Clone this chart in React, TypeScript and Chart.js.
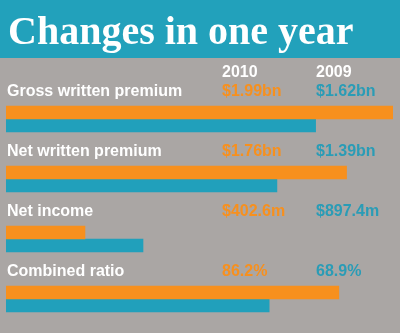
import React, { useEffect, useRef } from "react";
import { Chart, registerables } from "chart.js";

Chart.register(...registerables);

const title = "Changes in one year";
const categories = ["Gross written premium", "Net written premium", "Net income", "Combined ratio"];
const seriesNames = ["2010", "2009"];
const valueLabels2010 = ["$1.99bn", "$1.76bn", "$402.6m", "86.2%"];
const valueLabels2009 = ["$1.62bn", "$1.39bn", "$897.4m", "68.9%"];
// bar lengths as drawn in the graphic, in percent of the full bar width
const barLength2010 = [100, 88, 20.4, 86];
const barLength2009 = [80, 70, 35.4, 68];

const ORANGE = "#f7901e";
const TEAL = "#21a0bb";
const GRAY = "#aaa6a4";
const BANNER = "#22a1bb";
const SANS = "'Liberation Sans', Arial, sans-serif";

export default function App() {
  const ref = useRef<HTMLCanvasElement | null>(null);

  useEffect(() => {
    const canvas = ref.current;
    if (!canvas) return;

    const decor = {
      id: "decor",
      beforeDraw(chart: any) {
        const ctx = chart.ctx;
        ctx.save();
        ctx.fillStyle = GRAY;
        ctx.fillRect(0, 0, chart.width, chart.height);
        ctx.fillStyle = BANNER;
        ctx.fillRect(0, 0, chart.width, 58);
        ctx.fillStyle = "#ffffff";
        ctx.font = "bold 40px 'Liberation Serif', 'Times New Roman', serif";
        ctx.textBaseline = "alphabetic";
        ctx.textAlign = "left";
        ctx.fillText(title, 8, 44);
        ctx.restore();
      },
      afterDraw(chart: any) {
        const ctx = chart.ctx;
        const y = chart.scales.y;
        ctx.save();
        ctx.textBaseline = "alphabetic";
        ctx.textAlign = "left";
        ctx.font = `bold 16px ${SANS}`;
        ctx.fillStyle = "#ffffff";
        ctx.fillText(seriesNames[0], 222, 77);
        ctx.fillText(seriesNames[1], 316, 77);
        categories.forEach((c, i) => {
          const base = y.getPixelForValue(i) - 23;
          ctx.fillStyle = "#ffffff";
          ctx.fillText(c, 7, base);
          ctx.fillStyle = ORANGE;
          ctx.fillText(valueLabels2010[i], 222, base);
          ctx.fillStyle = "#2a9cb6";
          ctx.fillText(valueLabels2009[i], 316, base);
        });
        ctx.restore();
      },
    };

    const chart = new Chart(canvas, {
      type: "bar",
      data: {
        labels: categories,
        datasets: [
          { label: seriesNames[0], data: barLength2010, backgroundColor: ORANGE, barThickness: 13 },
          { label: seriesNames[1], data: barLength2009, backgroundColor: TEAL, barThickness: 13 },
        ],
      },
      options: {
        indexAxis: "y",
        responsive: false,
        animation: false,
        layout: { padding: { top: 89, bottom: 4, left: 6, right: 7 } },
        plugins: { legend: { display: false }, tooltip: { enabled: false }, title: { display: false } },
        scales: {
          x: { display: false, min: 0, max: 100 },
          y: { display: false },
        },
      },
      plugins: [decor],
    });
    return () => chart.destroy();
  }, []);

  return (
    <div style={{ position: "fixed", left: 0, top: 0, width: 400, height: 333, background: GRAY }}>
      <canvas ref={ref} width={400} height={333} style={{ display: "block" }} />
    </div>
  );
}
